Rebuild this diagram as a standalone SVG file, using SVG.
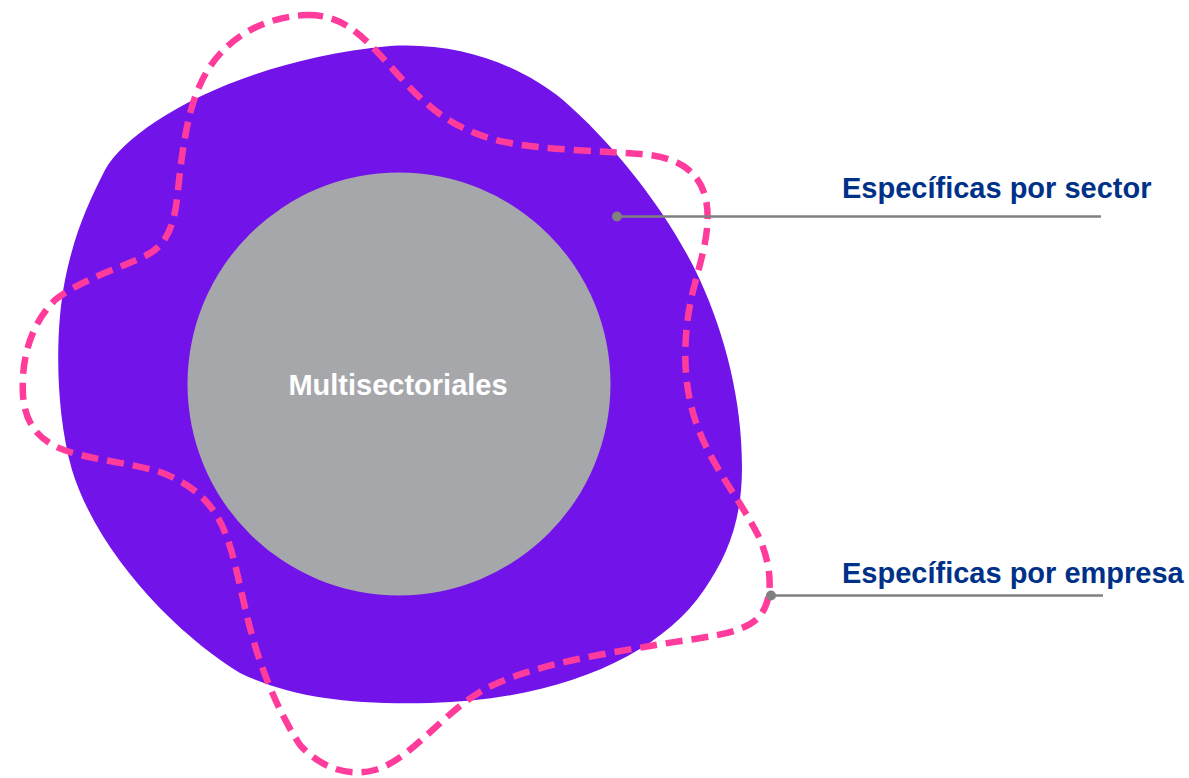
<svg xmlns="http://www.w3.org/2000/svg" width="1189" height="778" viewBox="0 0 1189 778">
  <style>
    .label { font-family: "Liberation Sans", Arial, sans-serif; font-weight: bold; font-size: 29px; fill: #003189; }
    .center { font-family: "Liberation Sans", Arial, sans-serif; font-weight: bold; font-size: 29px; fill: #ffffff; }
    .leader { stroke: #808080; stroke-width: 2.5; fill: none; }
    .dot { fill: #808080; }
    .dashed { fill: none; stroke: #FF3C9B; stroke-width: 6.5; stroke-dasharray: 17 9; }
  </style>
  <rect width="1189" height="778" fill="#ffffff"/>
  <g id="sector-blob">
    <path d="M 105,170 C 130,125 240,60 390,46 C 460,42 520,65 563,100 C 615,145 670,215 700,280 C 725,335 742,400 742,467 C 742,520 728,555 704,590 C 660,655 560,700 430,703 C 350,705 290,697 240,673 C 185,640 100,560 72,470 C 55,410 55,330 65,280 C 75,230 90,200 105,170 Z" fill="#7213EA"/>
  </g>
  <g id="multisectoriales">
    <circle cx="399" cy="384" r="211.5" fill="#A6A7AB"/>
    <text class="center" x="398" y="395" text-anchor="middle">Multisectoriales</text>
  </g>
  <g id="empresa-outline">
    <path class="dashed" d="M 306,15 C 345,14 365,38 400,77 C 430,110 455,130 500,141 C 540,150 600,151 640,154 C 680,157 700,172 706,200 C 712,230 700,262 692,295 C 682,340 682,390 700,433 C 715,470 740,500 758,535 C 772,565 775,600 758,618 C 740,636 700,637 650,646 C 590,656 520,668 480,692 C 440,716 410,760 375,770 C 345,778 318,765 300,745 C 280,715 262,672 252,635 C 242,600 236,560 226,535 C 215,505 195,485 160,472 C 130,463 95,460 70,452 C 40,443 25,425 23,395 C 21,360 30,325 55,300 C 80,280 120,268 145,256 C 170,244 175,220 178,190 C 182,150 188,110 200,85 C 215,50 250,18 306,15 Z"/>
  </g>
  <g id="connectors">
    <line class="leader" x1="617" y1="216.5" x2="1101" y2="216.5"/>
    <circle class="dot" cx="617" cy="216.5" r="5"/>
    <line class="leader" x1="771" y1="595.5" x2="1103" y2="595.5"/>
    <circle class="dot" cx="771" cy="595.5" r="5"/>
  </g>
  <g id="label-sector">
    <text class="label" x="842" y="198">Específicas por sector</text>
  </g>
  <g id="label-empresa">
    <text class="label" x="842" y="583">Específicas por empresa</text>
  </g>
</svg>
